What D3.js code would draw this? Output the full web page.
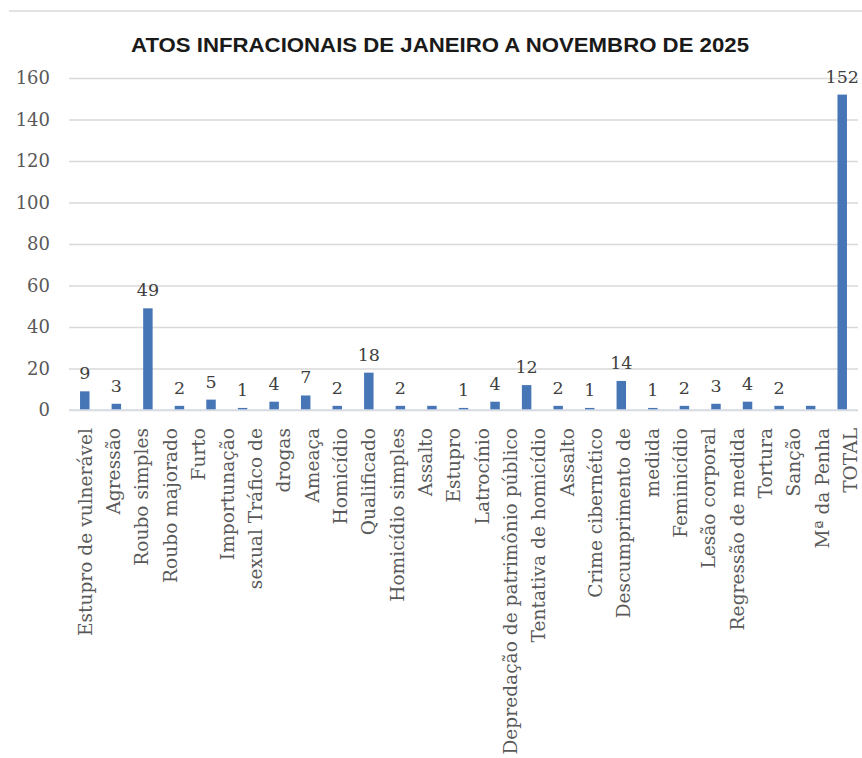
<!DOCTYPE html>
<html>
<head>
<meta charset="utf-8">
<script src="https://cdn.jsdelivr.net/npm/d3@7.9.0/dist/d3.min.js"></script>
<style>
  body { margin: 0; background: #fff; }
  svg { display: block; }
</style>
</head>
<body>
<div id="chart"></div>
<script>
// título
const title = 'ATOS INFRACIONAIS DE JANEIRO A NOVEMBRO DE 2025';

// uma barra por ato infracional (a última é o total)
const categories = [
  'Estupro de vulnerável', 'Agressão', 'Roubo simples', 'Roubo majorado', 'Furto',
  'Importunação sexual', 'Tráfico de drogas', 'Ameaça', 'Homicídio', 'Qualificado',
  'Homicídio simples', 'Assalto', 'Estupro', 'Latrocínio', 'Depredação de patrimônio público',
  'Tentativa de homicídio', 'Assalto', 'Crime cibernético', 'Descumprimento de medida',
  'Feminicídio', 'Lesão corporal', 'Regressão de medida', 'Tortura', 'Sanção Mª da Penha', 'TOTAL'
];
const values = [9, 3, 49, 2, 5, 1, 4, 7, 2, 18, 2, 2, 1, 4, 12, 2, 1, 14, 1, 2, 3, 4, 2, 2, 152];
// barras sem rótulo de valor no original
const unlabeled = [11, 23];

// rótulos do eixo x como aparecem (quebrados em 28 linhas)
const tickLabels = [
  'Estupro de vulnerável', 'Agressão', 'Roubo simples', 'Roubo majorado', 'Furto',
  'Importunação', 'sexual Tráfico de', 'drogas', 'Ameaça', 'Homicídio', 'Qualificado',
  'Homicídio simples', 'Assalto', 'Estupro', 'Latrocínio', 'Depredação de patrimônio público',
  'Tentativa de homicídio', 'Assalto', 'Crime cibernético', 'Descumprimento de', 'medida',
  'Feminicídio', 'Lesão corporal', 'Regressão de medida', 'Tortura', 'Sanção', 'Mª da Penha', 'TOTAL'
];
const yTicks = [0, 20, 40, 60, 80, 100, 120, 140, 160];

const W = 862, H = 758;
const margin = { top: 78, right: 4, bottom: 348, left: 69 };
const serif = "'DejaVu Serif', 'Liberation Serif', serif";

const svg = d3.select('#chart').append('svg')
  .attr('width', W).attr('height', H)
  .attr('viewBox', `0 0 ${W} ${H}`);

// linha fina no topo
svg.append('line')
  .attr('x1', 9).attr('x2', W).attr('y1', 11).attr('y2', 11)
  .attr('stroke', '#e3e3e3').attr('stroke-width', 2);

const x = d3.scaleBand()
  .domain(d3.range(categories.length))
  .range([margin.left, W - margin.right])
  .paddingInner(0.7).paddingOuter(0.35);

const y = d3.scaleLinear()
  .domain([0, 160])
  .range([H - margin.bottom, margin.top]);

const xLab = d3.scalePoint()
  .domain(d3.range(tickLabels.length))
  .range([x(0) + x.bandwidth() / 2, W - 12]);

// título
svg.append('text')
  .attr('x', 440).attr('y', 52)
  .attr('text-anchor', 'middle')
  .attr('textLength', 618).attr('lengthAdjust', 'spacingAndGlyphs')
  .style('font-family', "'Liberation Sans Narrow', 'Liberation Sans', Arial, sans-serif")
  .style('font-weight', 'bold').style('font-size', '21px')
  .style('fill', '#1a1a1a')
  .text(title);

// grade
svg.append('g')
  .attr('class', 'gridlines')
  .attr('transform', `translate(${margin.left}, 0)`)
  .call(d3.axisLeft(y).tickValues(yTicks).tickFormat('').tickSize(-(W - margin.right - margin.left)))
  .call(g => g.select('.domain').remove())
  .call(g => g.selectAll('line').attr('stroke', '#d9d9d9').attr('stroke-width', 1.5));

// eixo y
svg.append('g')
  .attr('transform', `translate(${margin.left}, 0)`)
  .call(d3.axisLeft(y).tickValues(yTicks).tickSize(0).tickPadding(19))
  .call(g => g.select('.domain').remove())
  .call(g => g.selectAll('text')
    .style('font-family', serif).style('font-size', '18px').style('fill', '#595959'));

// barras
svg.append('g').selectAll('rect')
  .data(values)
  .join('rect')
  .attr('x', (d, i) => x(i))
  .attr('y', d => y(d))
  .attr('width', x.bandwidth())
  .attr('height', d => y(0) - y(d))
  .attr('fill', '#4676b6');

// rótulos de valor
svg.append('g').selectAll('text')
  .data(values.map((v, i) => ({ v, i })).filter(d => !unlabeled.includes(d.i)))
  .join('text')
  .attr('x', d => x(d.i) + x.bandwidth() / 2)
  .attr('y', d => y(d.v) - 12)
  .attr('text-anchor', 'middle')
  .style('font-family', serif).style('font-size', '17.5px').style('fill', '#404040')
  .text(d => d.v);

// eixo x com rótulos verticais
svg.append('g')
  .attr('transform', `translate(0, ${y(0)})`)
  .call(d3.axisBottom(xLab).tickSize(0).tickFormat(i => tickLabels[i]))
  .call(g => g.select('.domain').attr('stroke', '#d6dbe6').attr('stroke-width', 1.5)
    .attr('d', `M${margin.left},0H${W - margin.right}`))
  .call(g => g.selectAll('text')
    .attr('transform', 'rotate(-90)')
    .attr('text-anchor', 'end')
    .attr('x', -18).attr('y', 0).attr('dy', '0.35em')
    .style('font-family', serif).style('font-size', '18.6px').style('fill', '#595959'));
</script>
</body>
</html>
